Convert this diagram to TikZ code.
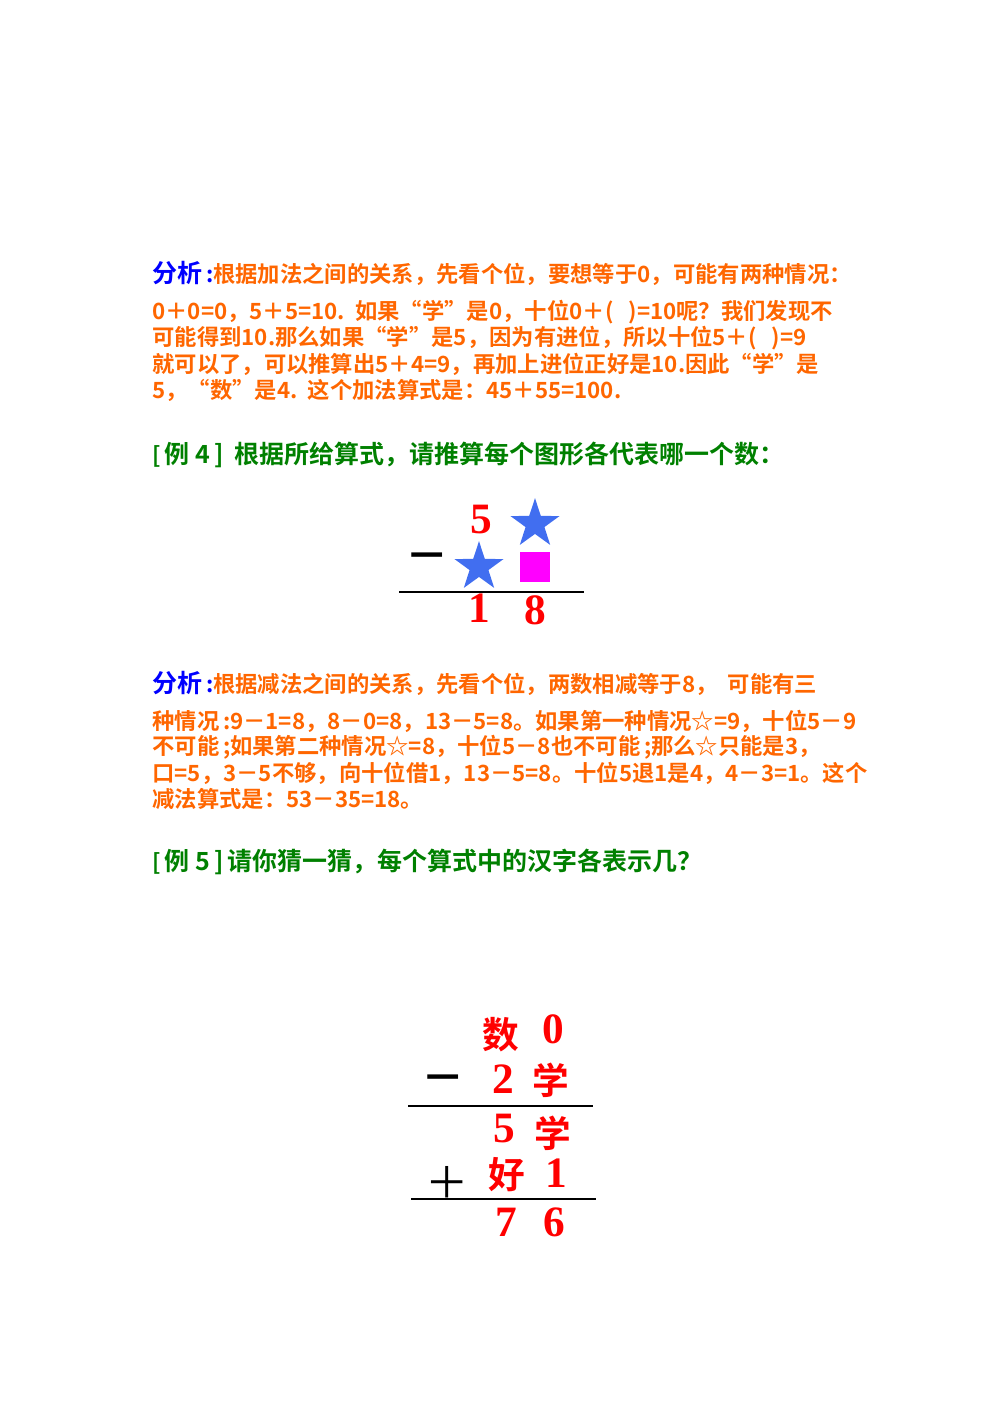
\documentclass[tikz,border=0pt]{standalone}
\usepackage{fontspec}
\setmainfont{Liberation Serif}
\newfontfamily\cjk{Noto Sans CJK SC Bold}
\newfontfamily\cjkl{Noto Sans CJK SC}
\usetikzlibrary{shapes.geometric}
\definecolor{org}{RGB}{255,102,0}
\definecolor{blu}{RGB}{0,0,255}
\definecolor{grn}{RGB}{0,128,0}
\definecolor{rd}{RGB}{255,0,0}
\definecolor{stb}{RGB}{65,110,240}
\definecolor{mag}{RGB}{255,0,255}
\tikzset{
 txt/.style={anchor=west,inner sep=0pt,font=\cjk\fontsize{13.4}{14}\selectfont,text=org},
 grn/.style={txt,text=grn},
 dig/.style={inner sep=0pt,text=rd,font=\bfseries\fontsize{26}{28}\selectfont},
 han/.style={inner sep=0pt,text=rd,font=\cjk\fontsize{22}{24}\selectfont},
 op/.style={inner sep=0pt,font=\cjk\fontsize{26}{26}\selectfont},
 opl/.style={inner sep=0pt,font=\cjkl\fontsize{26}{26}\selectfont},
 starx/.style={star,star points=5,star point ratio=2.6,fill=stb,minimum size=31pt,inner sep=0pt},
 rule/.style={line width=1.4}
}
\begin{document}
\begin{tikzpicture}[x=0.6pt,y=-0.6pt]
\useasboundingbox (0,0) rectangle (1000,1414);
\node[txt] (a0) at (152,273) {\textcolor{blu}{\fontsize{15}{16}\selectfont 分析}\,\textcolor{blu}{:}根据加法之间的关系，先看个位，要想等于0，可能有两种情况：};
\node[txt] (a1) at (152,312) {0＋0=0，5＋5=10.\ \ 如果“学”是0，十位0＋(\ \ \ )=10呢？我们发现不};
\node[txt] (a2) at (152,338) {可能得到10.那么如果“学”是5，因为有进位，所以十位5＋(\ \ \ )=9};
\node[txt] (a3) at (152,364) {就可以了，可以推算出5＋4=9，再加上进位正好是10.因此“学”是};
\node[txt] (a4) at (152,390) {5，“数”是4.\ \ 这个加法算式是：45＋55=100.};
\node[grn] (e4) at (152,455) {[\,\fontsize{15}{16}\selectfont 例 4\,]\ \ 根据所给算式，请推算每个图形各代表哪一个数：};
\node[dig] (d5) at (481,520) {5};
\node[starx] (s1) at (535,524) {};
\node[op] (m1) at (427,562) {－};
\node[starx] (s2) at (479,567) {};
\node[fill=mag,minimum size=18,inner sep=0pt] (sq) at (535,567) {};
\coordinate (l1a) at (399,592); \coordinate (l1b) at (584,592);
\draw[rule] (l1a) -- (l1b);
\node[dig] (d1) at (479,608) {1};
\node[dig] (d8) at (535,610) {8};
\node[txt] (b0) at (152,683) {\textcolor{blu}{\fontsize{15}{16}\selectfont 分析}\,\textcolor{blu}{:}根据减法之间的关系，先看个位，两数相减等于8，\ \ 可能有三};
\node[txt] (b1) at (152,721) {种情况\,:9－1=8，8－0=8，13－5=8。如果第一种情况☆=9，十位5－9};
\node[txt] (b2) at (152,747) {不可能\,;如果第二种情况☆=8，十位5－8也不可能\,;那么☆只能是3，};
\node[txt] (b3) at (152,773) {口=5，3－5不够，向十位借1，13－5=8。十位5退1是4，4－3=1。这个};
\node[txt] (b4) at (152,799) {减法算式是：53－35=18。};
\node[grn] (e5) at (152,862) {[\,\fontsize{15}{16}\selectfont 例 5\,]\,请你猜一猜，每个算式中的汉字各表示几？};
\node[han] (h1) at (501,1035) {数};
\node[dig] (z0) at (553,1029) {0};
\node[op] (m2) at (443,1084) {－};
\node[dig] (z2) at (503,1079) {2};
\node[han] (h2) at (551,1080) {学};
\coordinate (l2a) at (408,1106); \coordinate (l2b) at (593,1106);
\draw[rule] (l2a) -- (l2b);
\node[dig] (z5) at (504,1129) {5};
\node[han] (h3) at (553,1133) {学};
\node[opl] (p1) at (447,1182) {＋};
\node[han] (h4) at (507,1175) {好};
\node[dig] (z1) at (556,1173) {1};
\coordinate (l3a) at (411,1199); \coordinate (l3b) at (596,1199);
\draw[rule] (l3a) -- (l3b);
\node[dig] (z7) at (506,1222) {7};
\node[dig] (z6) at (554,1222) {6};
\end{tikzpicture}
\end{document}
